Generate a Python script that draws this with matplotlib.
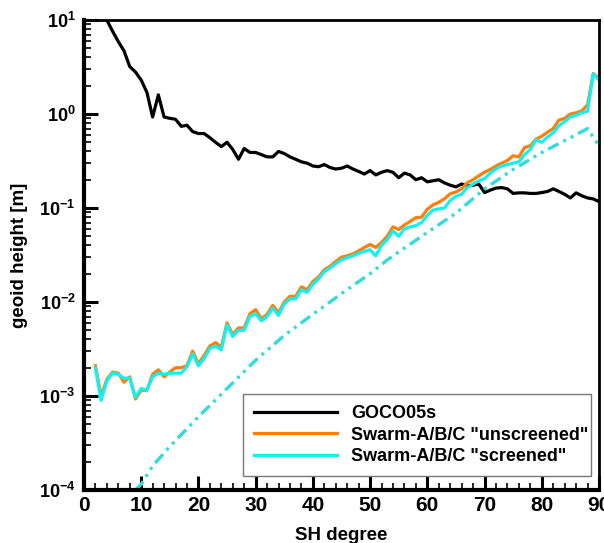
"""
Geoid height per SH degree: GOCO05s vs Swarm-A/B/C gravity fields
"""

import numpy as np
import matplotlib
matplotlib.use("Agg")
import matplotlib.pyplot as plt
from matplotlib.ticker import FixedLocator, FuncFormatter, LogLocator, MultipleLocator

plt.rcParams["font.family"] = ["Liberation Sans", "DejaVu Sans"]
plt.rcParams["font.weight"] = "bold"
plt.rcParams["mathtext.fontset"] = "custom"
plt.rcParams["mathtext.rm"] = "Liberation Sans:bold"
plt.rcParams["mathtext.bf"] = "Liberation Sans:bold"
plt.rcParams["mathtext.default"] = "bf"

# GOCO05s signal, degrees 3..90
goco_deg = list(range(3, 91))
goco = [13.0, 10.0, 7.6, 5.9, 4.7, 3.2, 2.8, 2.3, 1.7, 0.93,
        1.6, 0.93, 0.90, 0.88, 0.74, 0.76, 0.65, 0.62, 0.62, 0.56,
        0.50, 0.45, 0.50, 0.42, 0.33, 0.43, 0.39, 0.39, 0.37, 0.35,
        0.35, 0.40, 0.38, 0.35, 0.33, 0.31, 0.30, 0.28, 0.275, 0.29,
        0.27, 0.26, 0.265, 0.28, 0.26, 0.245, 0.23, 0.25, 0.225, 0.24,
        0.25, 0.24, 0.21, 0.235, 0.225, 0.20, 0.21, 0.19, 0.195, 0.20,
        0.185, 0.175, 0.168, 0.18, 0.172, 0.175, 0.18, 0.146, 0.155, 0.163,
        0.165, 0.16, 0.143, 0.145, 0.145, 0.143, 0.143, 0.146, 0.15, 0.16,
        0.15, 0.14, 0.128, 0.145, 0.135, 0.128, 0.125, 0.117]

# Swarm-A/B/C solutions, degrees 2..90
swarm_deg = list(range(2, 91))
unscreened = [2.1e-3, 1.0e-3, 1.5e-3, 1.8e-3, 1.75e-3, 1.4e-3, 1.6e-3, 9.3e-4, 1.15e-3,
              1.15e-3, 1.7e-3, 1.9e-3, 1.6e-3, 1.8e-3, 2.0e-3, 2.0e-3, 2.1e-3, 3.0e-3,
              2.2e-3, 2.7e-3, 3.4e-3, 3.7e-3, 3.3e-3, 6.0e-3, 4.5e-3, 5.3e-3, 5.3e-3,
              7.5e-3, 8.3e-3, 6.6e-3, 7.4e-3, 9.2e-3, 7.7e-3, 1.0e-2, 1.15e-2, 1.15e-2,
              1.45e-2, 1.35e-2, 1.65e-2, 1.85e-2, 2.2e-2, 2.4e-2, 2.7e-2, 3.0e-2, 3.1e-2,
              3.25e-2, 3.5e-2, 3.8e-2, 4.1e-2, 3.8e-2, 4.3e-2, 5.0e-2, 6.3e-2, 5.9e-2,
              6.6e-2, 7.2e-2, 7.9e-2, 8.0e-2, 9.7e-2, 0.108, 0.115, 0.125, 0.142,
              0.148, 0.16, 0.186, 0.20, 0.22, 0.24, 0.257, 0.28, 0.30, 0.32,
              0.36, 0.35, 0.44, 0.46, 0.54, 0.58, 0.64, 0.70, 0.86, 0.90,
              1.0, 1.03, 1.08, 1.25, 2.7, 2.4]
screened = [2.0e-3, 9.0e-4, 1.45e-3, 1.75e-3, 1.7e-3, 1.55e-3, 1.55e-3, 9.7e-4, 1.2e-3,
            1.15e-3, 1.6e-3, 1.75e-3, 1.7e-3, 1.75e-3, 1.75e-3, 1.75e-3, 2.05e-3, 2.8e-3,
            2.1e-3, 2.5e-3, 3.2e-3, 3.4e-3, 3.1e-3, 5.7e-3, 4.3e-3, 5.0e-3, 5.0e-3,
            7.0e-3, 7.5e-3, 6.3e-3, 7.0e-3, 8.6e-3, 7.2e-3, 9.5e-3, 1.08e-2, 1.08e-2,
            1.35e-2, 1.27e-2, 1.55e-2, 1.75e-2, 2.1e-2, 2.3e-2, 2.55e-2, 2.8e-2, 2.95e-2,
            3.1e-2, 3.3e-2, 3.45e-2, 3.6e-2, 3.1e-2, 4.0e-2, 4.6e-2, 5.7e-2, 5.0e-2,
            6.0e-2, 6.3e-2, 6.5e-2, 7.0e-2, 8.3e-2, 9.5e-2, 9.8e-2, 0.10, 0.12,
            0.133, 0.14, 0.165, 0.18, 0.195, 0.205, 0.235, 0.26, 0.28, 0.29,
            0.30, 0.31, 0.37, 0.42, 0.53, 0.50, 0.57, 0.63, 0.75, 0.83,
            0.93, 0.97, 1.03, 1.07, 2.67, 2.3]

# error curve of the screened solution (dash-dot, not in legend)
err_deg = [9, 10, 12, 15, 20, 25, 30, 35, 40, 43, 45, 50, 53, 55, 60, 65, 70, 75, 80, 85, 88, 90]
err = [1.0e-4, 1.15e-4, 1.8e-4, 2.9e-4, 6.0e-4, 1.2e-3, 2.4e-3, 4.4e-3, 7.4e-3, 1.0e-2,
       1.23e-2, 2.0e-2, 2.8e-2, 3.4e-2, 5.5e-2, 8.8e-2, 0.16, 0.257, 0.39, 0.56, 0.70, 0.46]

ORANGE = "#ff7f0a"
CYAN = "#10f2f2"

fig = plt.figure(figsize=(6.04, 5.43), dpi=100)
ax = fig.add_axes([0.139, 0.0976, 0.8527, 0.8655])

ax.plot(goco_deg, goco, color="black", lw=2.3, label="GOCO05s")
ax.plot(swarm_deg, unscreened, color=ORANGE, lw=2.3, label='Swarm-A/B/C "unscreened"')
ax.plot(swarm_deg, screened, color=CYAN, lw=2.3, label='Swarm-A/B/C "screened"')
ax.plot(err_deg, err, color="#30dcdc", lw=2.4, dashes=[3.5, 1.6, 0.9, 1.6, 0.9, 1.6])

ax.set_yscale("log")
ax.set_xlim(0, 90)
ax.set_ylim(1e-4, 1e1)

ax.yaxis.set_major_locator(FixedLocator([1e-4, 1e-3, 1e-2, 1e-1, 1e0, 1e1]))
ax.yaxis.set_major_formatter(FuncFormatter(lambda v, p: "$10^{%d}$" % round(np.log10(v))))
ax.yaxis.set_minor_locator(LogLocator(base=10, subs=np.arange(2, 10)))
ax.yaxis.set_minor_formatter(FuncFormatter(lambda v, p: ""))
ax.xaxis.set_major_locator(MultipleLocator(10))
ax.xaxis.set_minor_locator(MultipleLocator(2))

ax.tick_params(axis="both", which="major", direction="in", length=10, width=2.2)
ax.tick_params(axis="both", which="minor", direction="in", length=5, width=1.2)
ax.tick_params(axis="x", labelsize=15, pad=4)
ax.tick_params(axis="y", labelsize=13, pad=6)
ax.tick_params(top=False, right=False, which="both")
for lab in ax.get_xticklabels():
    lab.set_fontweight("bold")

for side in ["left", "bottom"]:
    ax.spines[side].set_linewidth(3)
for side in ["top", "right"]:
    ax.spines[side].set_linewidth(2)

ax.set_xlabel("SH degree", fontsize=13.5, fontweight="bold", labelpad=9)
ax.set_ylabel("geoid height [m]", fontsize=13.5, fontweight="bold", labelpad=8)

leg = ax.legend(loc="lower left", bbox_to_anchor=(0.309, 0.03, 0.675, 0.18), mode="expand",
                borderaxespad=0, fontsize=13, handlelength=4.6, handletextpad=0.8,
                labelspacing=0.25, borderpad=0.6, fancybox=False, framealpha=1,
                edgecolor="#777777")
leg.get_frame().set_linewidth(1.0)
for t in leg.get_texts():
    t.set_fontweight("bold")

fig.savefig("out.png", dpi=100)
